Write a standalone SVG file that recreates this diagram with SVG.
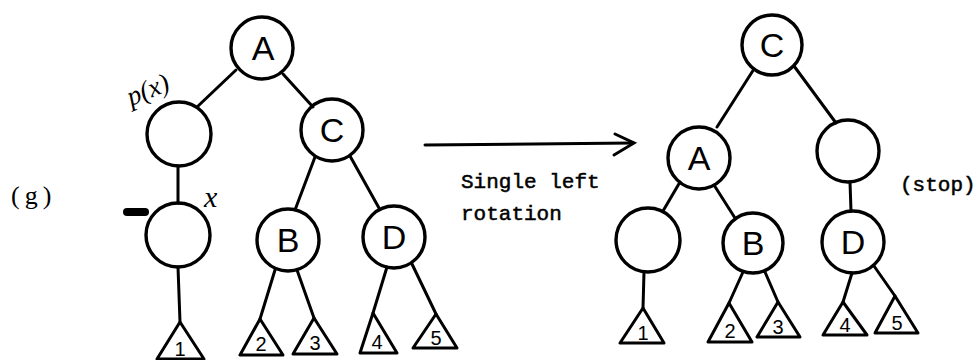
<svg xmlns="http://www.w3.org/2000/svg" width="979" height="360" viewBox="0 0 979 360">
<defs>
<style>
.n{fill:none;stroke:#000;stroke-width:3.4}
.t{fill:none;stroke:#000;stroke-width:3;stroke-linejoin:round}
.e{fill:none;stroke:#000;stroke-width:3;stroke-linecap:round}
.lab{font-family:"Liberation Sans","DejaVu Sans",sans-serif;font-size:34px;text-anchor:middle;fill:#000}
.num{font-family:"Liberation Sans","DejaVu Sans",sans-serif;font-size:20px;text-anchor:middle;fill:#000}
.mono{font-family:"Liberation Mono","DejaVu Sans Mono",monospace;font-size:21px;fill:#000;stroke:#000;stroke-width:0.5}
.it{font-family:"Liberation Serif","DejaVu Serif",serif;font-style:italic;fill:#000}
</style>
</defs>
<rect width="979" height="360" fill="#fff"/>

<g id="connectors">
<line class="e" x1="236" y1="70" x2="197" y2="107"/>
<line class="e" x1="283" y1="74" x2="313" y2="107"/>
<line class="e" x1="178" y1="166" x2="178" y2="203"/>
<line class="e" x1="315" y1="157" x2="295" y2="210"/>
<line class="e" x1="350" y1="156" x2="379" y2="208"/>
<line class="e" x1="178" y1="267" x2="180" y2="322"/>
<line class="e" x1="275" y1="270" x2="260" y2="319"/>
<line class="e" x1="297" y1="270" x2="314" y2="318"/>
<line class="e" x1="387" y1="267" x2="373" y2="313"/>
<line class="e" x1="412" y1="264" x2="436" y2="314"/>

<line class="e" x1="754" y1="69" x2="717" y2="127"/>
<line class="e" x1="794" y1="66" x2="836" y2="123"/>
<line class="e" x1="680" y1="182" x2="663" y2="211"/>
<line class="e" x1="714" y1="185" x2="735" y2="218"/>
<line class="e" x1="850" y1="182" x2="851" y2="211"/>
<line class="e" x1="644" y1="272" x2="643" y2="308"/>
<line class="e" x1="743" y1="272" x2="729" y2="303"/>
<line class="e" x1="765" y1="272" x2="778" y2="302"/>
<line class="e" x1="852" y1="273" x2="843" y2="302"/>
<line class="e" x1="874" y1="266" x2="895" y2="296"/>

<line class="e" x1="425" y1="145" x2="633" y2="143"/>
<polyline class="e" points="615,134 634,143 614,155"/>
</g>

<g id="L-A"><circle class="n" cx="262" cy="48" r="31"/><text class="lab" x="263" y="60">A</text></g>
<g id="L-px"><circle class="n" cx="179" cy="134" r="32"/><text class="it" font-size="27" transform="translate(131,106) rotate(-22)">p(x)</text></g>
<g id="L-C"><circle class="n" cx="332" cy="130" r="31"/><text class="lab" x="332" y="142">C</text></g>
<g id="L-x"><circle class="n" cx="178" cy="235" r="32"/><text class="it" font-size="30" x="204" y="207">x</text><line x1="127" y1="212" x2="145" y2="212" stroke="#000" stroke-width="8" stroke-linecap="round"/></g>
<g id="L-B"><circle class="n" cx="288" cy="240" r="31"/><text class="lab" x="288" y="252">B</text></g>
<g id="L-D"><circle class="n" cx="394" cy="237" r="31"/><text class="lab" x="394" y="249">D</text></g>
<g id="L-T1"><polygon class="t" points="180,322 157,359 204,359"/><text class="num" x="180" y="356">1</text></g>
<g id="L-T2"><polygon class="t" points="260,319 240,355 283,355"/><text class="num" x="261" y="351">2</text></g>
<g id="L-T3"><polygon class="t" points="314,318 293,354 337,354"/><text class="num" x="315" y="350">3</text></g>
<g id="L-T4"><polygon class="t" points="373,313 360,353 397,353"/><text class="num" x="377" y="349">4</text></g>
<g id="L-T5"><polygon class="t" points="436,314 413,348 457,348"/><text class="num" x="436" y="345">5</text></g>

<g id="R-C"><circle class="n" cx="772" cy="45" r="30"/><text class="lab" x="772" y="57">C</text></g>
<g id="R-A"><circle class="n" cx="699" cy="158" r="31"/><text class="lab" x="699" y="170">A</text></g>
<g id="R-E"><circle class="n" cx="848" cy="151" r="31"/></g>
<g id="R-L"><circle class="n" cx="648" cy="240" r="32"/></g>
<g id="R-B"><circle class="n" cx="753" cy="243" r="30"/><text class="lab" x="753" y="255">B</text></g>
<g id="R-D"><circle class="n" cx="853" cy="242" r="31"/><text class="lab" x="853" y="254">D</text></g>
<g id="R-T1"><polygon class="t" points="643,308 620,343 664,343"/><text class="num" x="643" y="340">1</text></g>
<g id="R-T2"><polygon class="t" points="729,303 708,342 752,342"/><text class="num" x="730" y="338">2</text></g>
<g id="R-T3"><polygon class="t" points="778,302 757,337 800,337"/><text class="num" x="778" y="334">3</text></g>
<g id="R-T4"><polygon class="t" points="843,302 823,335 867,335"/><text class="num" x="845" y="332">4</text></g>
<g id="R-T5"><polygon class="t" points="895,296 875,333 918,333"/><text class="num" x="897" y="330">5</text></g>

<g id="labels">
<text x="11" y="204" font-family="Liberation Serif, DejaVu Serif, serif" font-size="26" letter-spacing="5" fill="#000">(g)</text>
<text class="mono" x="461" y="188">Single left</text>
<text class="mono" x="461" y="220">rotation</text>
<text class="mono" x="900" y="191">(stop)</text>
</g>
</svg>
